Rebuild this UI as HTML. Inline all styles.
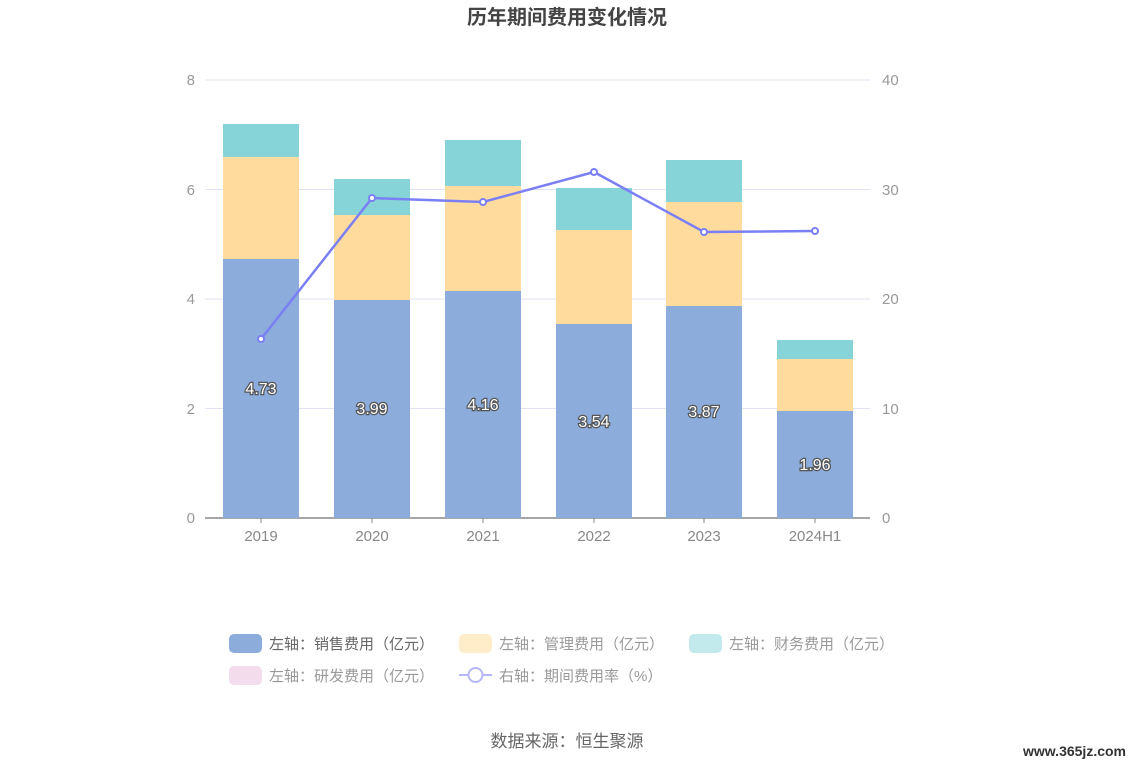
<!DOCTYPE html>
<html><head><meta charset="utf-8"><style>
body{margin:0;background:#fff;font-family:"Liberation Sans","Noto Sans CJK SC",sans-serif;}
</style></head><body>
<svg width="1134" height="766" xmlns="http://www.w3.org/2000/svg" font-family="Liberation Sans, Noto Sans CJK SC, sans-serif">
<rect width="1134" height="766" fill="#fff"/>
<text x="567" y="24" text-anchor="middle" font-size="20" font-weight="bold" fill="#444">历年期间费用变化情况</text>
<g stroke="#e0e3f3" stroke-width="1">
<line x1="205" y1="80" x2="870" y2="80"/><line x1="205" y1="189.5" x2="870" y2="189.5"/>
<line x1="205" y1="299" x2="870" y2="299"/><line x1="205" y1="408.5" x2="870" y2="408.5"/>
</g>
<line x1="205" y1="518" x2="870" y2="518" stroke="#888" stroke-width="1.5"/>
<g stroke="#888"><line x1="261" y1="518" x2="261" y2="523"/><line x1="372" y1="518" x2="372" y2="523"/><line x1="483" y1="518" x2="483" y2="523"/><line x1="594" y1="518" x2="594" y2="523"/><line x1="704" y1="518" x2="704" y2="523"/><line x1="815" y1="518" x2="815" y2="523"/></g>
<g font-size="15" fill="#999" text-anchor="end">
<text x="195" y="85">8</text><text x="195" y="195">6</text><text x="195" y="304">4</text><text x="195" y="414">2</text><text x="195" y="523">0</text></g>
<g font-size="15" fill="#999" text-anchor="start">
<text x="882" y="85">40</text><text x="882" y="195">30</text><text x="882" y="304">20</text><text x="882" y="414">10</text><text x="882" y="523">0</text></g>
<g font-size="15" fill="#888" text-anchor="middle">
<text x="261" y="541">2019</text><text x="372" y="541">2020</text><text x="483" y="541">2021</text><text x="594" y="541">2022</text><text x="704" y="541">2023</text><text x="815" y="541">2024H1</text></g>
<g>
<rect x="223" y="259" width="76" height="259" fill="#8cacdb"/><rect x="223" y="157" width="76" height="102" fill="#ffdc9e"/><rect x="223" y="124" width="76" height="33" fill="#86d4d8"/>
<rect x="334" y="300" width="76" height="218" fill="#8cacdb"/><rect x="334" y="215" width="76" height="85" fill="#ffdc9e"/><rect x="334" y="179" width="76" height="36" fill="#86d4d8"/>
<rect x="445" y="291" width="76" height="227" fill="#8cacdb"/><rect x="445" y="186" width="76" height="105" fill="#ffdc9e"/><rect x="445" y="140" width="76" height="46" fill="#86d4d8"/>
<rect x="556" y="324" width="76" height="194" fill="#8cacdb"/><rect x="556" y="230" width="76" height="94" fill="#ffdc9e"/><rect x="556" y="188" width="76" height="42" fill="#86d4d8"/>
<rect x="666" y="306" width="76" height="212" fill="#8cacdb"/><rect x="666" y="202" width="76" height="104" fill="#ffdc9e"/><rect x="666" y="160" width="76" height="42" fill="#86d4d8"/>
<rect x="777" y="411" width="76" height="107" fill="#8cacdb"/><rect x="777" y="359" width="76" height="52" fill="#ffdc9e"/><rect x="777" y="340" width="76" height="19" fill="#86d4d8"/>
</g>
<g font-size="16" fill="#fff" stroke="#555" stroke-width="2.5" paint-order="stroke" text-anchor="middle">
<text x="261" y="394">4.73</text><text x="372" y="414">3.99</text><text x="483" y="410">4.16</text><text x="594" y="427">3.54</text><text x="704" y="417">3.87</text><text x="815" y="470">1.96</text></g>
<polyline points="261,339 372,198 483,202 594,172 704,232 815,231" fill="none" stroke="#7b7ff5" stroke-width="2.5"/>
<g fill="#fff" stroke="#7b7ff5" stroke-width="2"><circle cx="261" cy="339" r="3"/><circle cx="372" cy="198" r="3"/><circle cx="483" cy="202" r="3"/><circle cx="594" cy="172" r="3"/><circle cx="704" cy="232" r="3"/><circle cx="815" cy="231" r="3"/></g>
<g font-size="15" fill="#666">
<rect x="229" y="634" width="33" height="19" rx="5" fill="#8cacdb"/><text x="269" y="649">左轴：销售费用（亿元）</text>
<rect x="459" y="634" width="33" height="19" rx="5" fill="#ffecc8"/><text x="499" y="649" fill="#999">左轴：管理费用（亿元）</text>
<rect x="689" y="634" width="33" height="19" rx="5" fill="#c2eaec"/><text x="729" y="649" fill="#999">左轴：财务费用（亿元）</text>
<rect x="229" y="666" width="33" height="19" rx="5" fill="#f3dcec"/><text x="269" y="681" fill="#999">左轴：研发费用（亿元）</text>
<line x1="459" y1="675" x2="492" y2="675" stroke="#b5b8f8" stroke-width="2"/><circle cx="475.5" cy="675" r="7" fill="#fff" stroke="#b5b8f8" stroke-width="2"/><text x="499" y="681" fill="#999">右轴：期间费用率（%）</text>
</g>
<text x="567" y="747" text-anchor="middle" font-size="17" fill="#666">数据来源：恒生聚源</text>
<text x="1126" y="756" text-anchor="end" font-size="14" font-weight="bold" fill="#333">www.365jz.com</text>
</svg>
</body></html>
